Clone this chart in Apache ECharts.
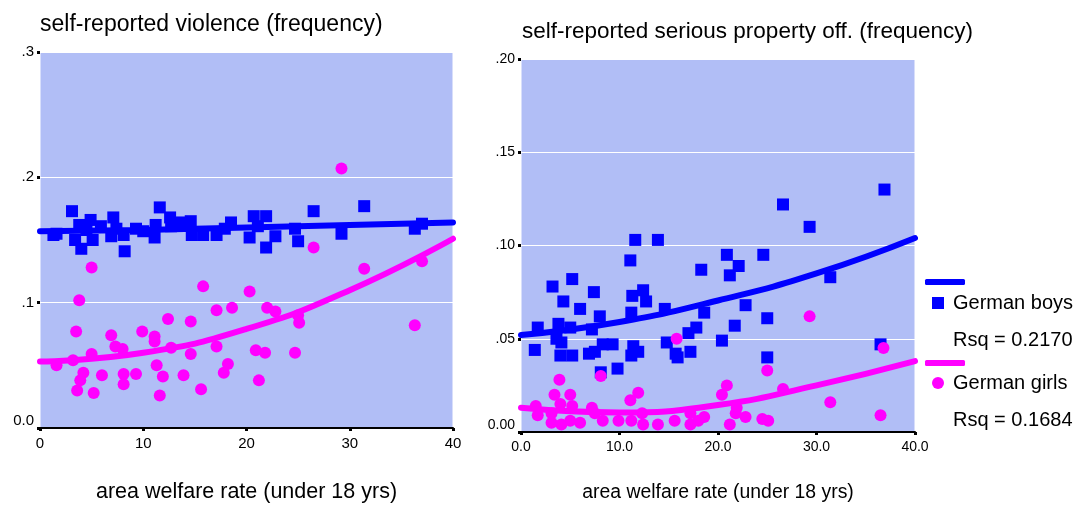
<!DOCTYPE html>
<html>
<head>
<meta charset="utf-8">
<script src="https://cdn.jsdelivr.net/npm/echarts@6/dist/echarts.min.js"></script>
<style>
  html, body { margin: 0; padding: 0; background: #fff; }
  #main { width: 1082px; height: 508px; }
</style>
</head>
<body>
<div id="main"></div>
<script>
// [welfare rate, frequency]
var boysViolence = [
  [1.3, 0.154], [1.6, 0.155], [3.1, 0.173], [3.4, 0.150], [3.8, 0.162], [4.0, 0.143],
  [4.5, 0.158], [4.9, 0.166], [5.1, 0.150], [5.9, 0.161], [6.9, 0.153], [7.1, 0.168],
  [7.4, 0.159], [8.1, 0.154], [8.2, 0.141], [9.3, 0.159], [10.0, 0.157], [11.1, 0.152],
  [11.2, 0.162], [11.6, 0.176], [12.6, 0.168], [12.7, 0.161], [13.7, 0.164], [14.6, 0.165],
  [14.7, 0.154], [15.8, 0.154], [17.1, 0.154], [17.9, 0.159], [18.5, 0.164], [20.3, 0.152],
  [20.7, 0.169], [21.1, 0.161], [21.9, 0.169], [21.9, 0.144], [22.8, 0.153], [24.7, 0.159],
  [25.0, 0.149], [26.5, 0.173], [29.2, 0.155], [31.4, 0.177], [36.3, 0.159], [37.0, 0.163]
];
var girlsViolence = [
  [1.6, 0.050], [3.2, 0.054], [3.5, 0.077], [3.6, 0.030], [3.8, 0.102], [3.9, 0.038],
  [4.2, 0.044], [5.0, 0.128], [5.0, 0.059], [5.2, 0.028], [6.0, 0.042], [6.9, 0.074],
  [7.3, 0.065], [8.0, 0.063], [8.1, 0.043], [8.1, 0.035], [9.3, 0.043], [9.9, 0.077],
  [11.1, 0.073], [11.1, 0.069], [11.3, 0.050], [11.6, 0.026], [11.9, 0.041], [12.4, 0.087],
  [12.7, 0.064], [13.9, 0.042], [14.6, 0.085], [14.6, 0.059], [15.6, 0.031], [15.8, 0.113],
  [17.1, 0.094], [17.1, 0.065], [17.8, 0.044], [18.2, 0.051], [18.6, 0.096], [20.3, 0.109],
  [20.9, 0.062], [21.2, 0.038], [21.8, 0.060], [22.0, 0.096], [22.8, 0.093], [24.7, 0.060],
  [25.0, 0.090], [25.1, 0.084], [26.5, 0.144], [29.2, 0.207], [31.4, 0.127], [36.3, 0.082],
  [37.0, 0.133]
];
var boysProperty = [
  [1.4, 0.044], [1.7, 0.056], [3.2, 0.078], [3.6, 0.050], [3.8, 0.058], [4.0, 0.041],
  [4.1, 0.048], [4.3, 0.070], [5.0, 0.056], [5.2, 0.082], [5.2, 0.041], [6.0, 0.066],
  [6.9, 0.042], [7.2, 0.055], [7.4, 0.075], [7.5, 0.043], [8.0, 0.062], [8.1, 0.032],
  [8.3, 0.047], [9.3, 0.047], [9.8, 0.034], [11.1, 0.092], [11.2, 0.064], [11.2, 0.041],
  [11.3, 0.073], [11.4, 0.046], [11.6, 0.103], [11.9, 0.043], [12.4, 0.076], [12.7, 0.070],
  [13.9, 0.103], [14.6, 0.066], [14.8, 0.048], [15.7, 0.042], [15.9, 0.040], [17.0, 0.053],
  [17.2, 0.043], [17.8, 0.056], [18.3, 0.087], [18.6, 0.064], [20.4, 0.049], [20.9, 0.095],
  [21.2, 0.084], [21.7, 0.057], [22.1, 0.089], [22.8, 0.068], [24.6, 0.095], [25.0, 0.061],
  [25.0, 0.040], [26.6, 0.122], [29.3, 0.110], [31.4, 0.083], [36.5, 0.047], [36.9, 0.130]
];
var girlsProperty = [
  [1.5, 0.014], [1.7, 0.009], [3.1, 0.010], [3.1, 0.005], [3.4, 0.020], [3.9, 0.028],
  [4.0, 0.015], [4.1, 0.004], [5.0, 0.020], [5.0, 0.006], [5.2, 0.014], [6.0, 0.005],
  [7.2, 0.013], [7.5, 0.010], [8.1, 0.030], [8.3, 0.006], [9.9, 0.006], [11.1, 0.017],
  [11.2, 0.006], [11.9, 0.021], [12.3, 0.010], [12.4, 0.004], [13.9, 0.004], [15.6, 0.006],
  [15.8, 0.050], [17.2, 0.010], [17.2, 0.004], [18.0, 0.006], [18.6, 0.008], [20.4, 0.020],
  [20.9, 0.025], [21.2, 0.004], [21.8, 0.010], [21.9, 0.013], [22.8, 0.008], [24.5, 0.007],
  [25.1, 0.006], [25.0, 0.033], [26.6, 0.023], [29.3, 0.062], [31.4, 0.016], [36.5, 0.009],
  [36.8, 0.045]
];

// fitted curves
var boysViolenceFit = [[0, 0.157], [10, 0.158], [20, 0.160], [30, 0.162], [40, 0.164]];
var girlsViolenceFit = [[0, 0.053], [10, 0.060], [20, 0.079], [30, 0.110], [40, 0.151]];
var boysPropertyFit = [[0, 0.052], [10, 0.059], [20, 0.0705], [30, 0.085], [40, 0.104]];
var girlsPropertyFit = [[0, 0.013], [10, 0.0105], [20, 0.0145], [30, 0.025], [40, 0.038]];

var leftXLabels = ['0', '10', '20', '30', '40'];
var leftYLabels = ['0.0', '.1', '.2', '.3'];
var rightXLabels = ['0.0', '10.0', '20.0', '30.0', '40.0'];
var rightYLabels = ['0.00', '.05', '.10', '.15', '.20'];

var rsqBoys = 'Rsq = 0.2170';
var rsqGirls = 'Rsq = 0.1684';

var FONT = 'Liberation Sans, Arial, sans-serif';
var BLUE = '#0000ff';
var PINK = '#ff00ff';
var PLOT_BG = '#b1bef6';

function xAxisOf(idx, labels, name, nameSize, nameGap, labelSize) {
  return {
    type: 'value', gridIndex: idx, min: 0, max: 40, interval: 10,
    name: name, nameLocation: 'middle', nameGap: nameGap,
    nameTextStyle: { fontFamily: FONT, fontSize: nameSize, color: '#000' },
    axisLine: { show: true, lineStyle: { color: '#000', width: 2 } },
    axisTick: { show: true, length: 3, lineStyle: { color: '#000', width: 3 } },
    axisLabel: {
      margin: 8, fontFamily: FONT, fontSize: labelSize, color: '#000',
      formatter: function (v) { return labels[Math.round(v / 10)]; }
    },
    splitLine: { show: false }
  };
}

function yAxisOf(idx, labels, max, step, labelSize) {
  return {
    type: 'value', gridIndex: idx, min: 0, max: max, interval: step,
    axisLine: { show: false },
    axisTick: { show: true, length: 3, lineStyle: { color: '#000', width: 3 } },
    axisLabel: {
      margin: 6, fontFamily: FONT, fontSize: labelSize, color: '#000',
      verticalAlignMinLabel: 'bottom',
      formatter: function (v) { return labels[Math.round(v / step)]; }
    },
    splitLine: { show: true, lineStyle: { color: '#fff', width: 1 } }
  };
}

function points(name, idx, data, symbol, color) {
  return {
    name: name, type: 'scatter', xAxisIndex: idx, yAxisIndex: idx,
    data: data, symbol: symbol, symbolSize: 12,
    itemStyle: { color: color, opacity: 1 }
  };
}

function fit(name, idx, data, color) {
  return {
    name: name, type: 'line', xAxisIndex: idx, yAxisIndex: idx,
    data: data, smooth: true, symbol: 'none', showSymbol: false,
    lineStyle: { color: color, width: 6, cap: 'round' },
    itemStyle: { color: color }
  };
}

function legendOf(name, icon, w, h, left, top) {
  return {
    data: [{ name: name, icon: icon }], left: left, top: top, padding: 0,
    itemWidth: w, itemHeight: h, selectedMode: false,
    textStyle: { fontFamily: FONT, fontSize: 20, color: '#000', padding: [0, 0, 0, 4] },
    formatter: function (n) { return n.indexOf('fit') >= 0 ? '' : n; }
  };
}

var chart = echarts.init(document.getElementById('main'));
chart.setOption({
  animation: false,
  backgroundColor: '#fff',
  title: [
    { text: 'self-reported violence (frequency)', left: 35, top: 8, padding: 5,
      textStyle: { fontFamily: FONT, fontSize: 23, fontWeight: 'normal', color: '#000' } },
    { text: 'self-reported serious property off. (frequency)', left: 517, top: 15, padding: 5,
      textStyle: { fontFamily: FONT, fontSize: 22.5, fontWeight: 'normal', color: '#000' } }
  ],
  grid: [
    { left: 40, top: 52, width: 413, height: 380, show: true,
      backgroundColor: PLOT_BG, borderColor: '#fff', borderWidth: 1 },
    { left: 521, top: 59, width: 394, height: 373, show: true,
      backgroundColor: PLOT_BG, borderColor: '#fff', borderWidth: 1 }
  ],
  xAxis: [
    xAxisOf(0, leftXLabels, 'area welfare rate (under 18 yrs)', 21.5, 53, 15),
    xAxisOf(1, rightXLabels, 'area welfare rate (under 18 yrs)', 19.4, 51, 14)
  ],
  yAxis: [
    yAxisOf(0, leftYLabels, 0.3, 0.1, 15),
    yAxisOf(1, rightYLabels, 0.2, 0.05, 14)
  ],
  legend: [
    legendOf('boys fit', 'roundRect', 40, 6, 925, 279),
    legendOf('German boys', 'rect', 12, 12, 932, 293),
    legendOf('girls fit', 'roundRect', 40, 6, 925, 360),
    legendOf('German girls', 'circle', 12, 12, 932, 373)
  ],
  graphic: [
    { type: 'text', left: 953, top: 330, style: { text: rsqBoys, font: '20px ' + FONT, fill: '#000' } },
    { type: 'text', left: 953, top: 410, style: { text: rsqGirls, font: '20px ' + FONT, fill: '#000' } }
  ],
  series: [
    points('German boys', 0, boysViolence, 'rect', BLUE),
    fit('boys fit', 0, boysViolenceFit, BLUE),
    points('German girls', 0, girlsViolence, 'circle', PINK),
    fit('girls fit', 0, girlsViolenceFit, PINK),
    points('German boys', 1, boysProperty, 'rect', BLUE),
    fit('boys fit', 1, boysPropertyFit, BLUE),
    points('German girls', 1, girlsProperty, 'circle', PINK),
    fit('girls fit', 1, girlsPropertyFit, PINK)
  ]
});
</script>
</body>
</html>
